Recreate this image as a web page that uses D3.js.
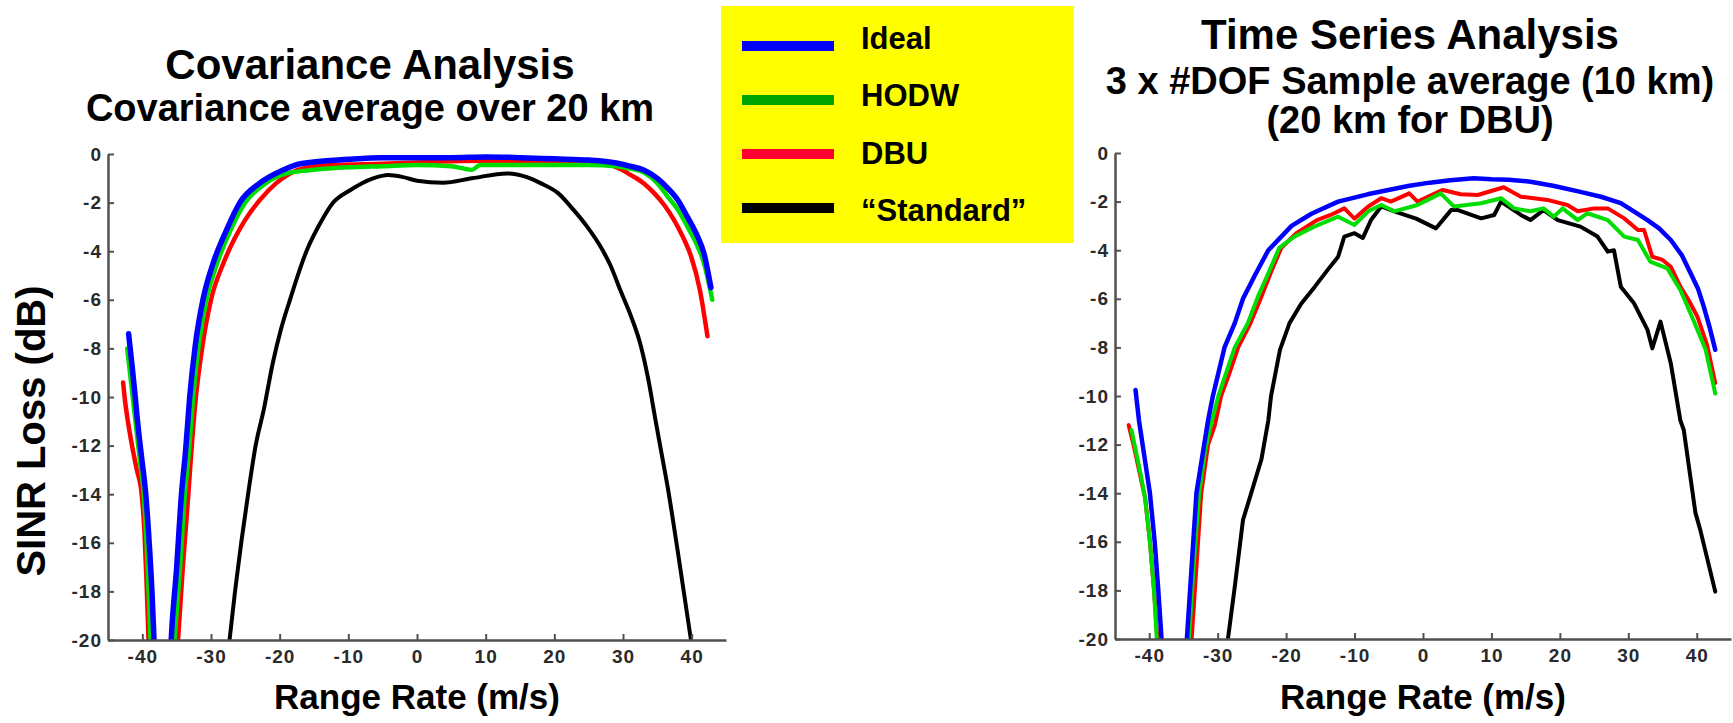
<!DOCTYPE html>
<html>
<head>
<meta charset="utf-8">
<script src="https://cdn.jsdelivr.net/npm/d3@7/dist/d3.min.js"></script>
<style>
    body { margin: 0; background: #ffffff; }
    svg { display: block; font-family: "Liberation Sans", Arial, Helvetica, sans-serif; }
</style>
</head>
<body>
<div id="chart"></div>
<script>
// ---- data (range rate m/s, SINR loss dB) ----
// values below -20 only exist so the notch dips out of the plot and gets clipped

let xTicks = [-40, -30, -20, -10, 0, 10, 20, 30, 40];
let yTicks = [0, -2, -4, -6, -8, -10, -12, -14, -16, -18, -20];

let legendLabels = ["Ideal", "HODW", "DBU", "\u201CStandard\u201D"];

let covTitles = ["Covariance Analysis", "Covariance average over 20 km"];
let tsTitles = ["Time Series Analysis", "3 x #DOF Sample average (10 km)", "(20 km for DBU)"];

let xLabel = "Range Rate (m/s)";
let yLabel = "SINR Loss (dB)";

// left panel: covariance analysis
let covIdeal = [[-42,-7.4],[-41.5,-8.7],[-41.1,-9.8],[-40.7,-11],[-40.1,-12.5],[-39.5,-14],[-39,-16],[-38.6,-18],[-38.3,-20],[-37,-30],
    [-35.8,-20],[-35,-17],[-34.3,-14],[-33.7,-12.2],[-33.1,-10],[-32.3,-7.9],[-31.1,-5.9],[-29.7,-4.5],[-27.7,-3.1],
    [-25.8,-2.0],[-22.9,-1.2],[-19.5,-0.66],[-17,-0.4],[-10,-0.22],[-5,-0.15],[0,-0.15],[5,-0.15],
    [10,-0.12],[15,-0.15],[20,-0.2],[25,-0.25],[29,-0.37],[31,-0.5],[33,-0.66],[35,-1.0],[36.5,-1.4],[38,-1.9],[39.4,-2.6],[40.7,-3.3],[41.8,-4.1],[42.8,-5.5]];

let covHodw = [[-42.2,-8],[-41.6,-9.5],[-41,-11],[-40.4,-12.5],[-39.8,-14],[-39.3,-16.5],[-38.8,-20],[-37,-30],
    [-35.3,-20],[-34.5,-17],[-33.8,-14],[-33.2,-12.2],[-32.6,-10],[-31.8,-7.9],[-30.6,-5.9],[-29.1,-4.5],[-27.1,-3.1],
    [-25,-2.0],[-22,-1.2],[-19,-0.8],[-15,-0.65],[-10,-0.55],[-5,-0.5],[0,-0.45],[5,-0.5],
    [8,-0.65],[9.2,-0.45],[15,-0.45],[20,-0.45],[25,-0.45],[29,-0.5],[31,-0.6],[33,-0.75],[35,-1.2],[36.5,-1.75],[38,-2.3],[39.4,-3.0],[40.7,-3.7],[41.8,-4.5],[43,-6.0]];

let covDbu = [[-42.8,-9.4],[-42.5,-10.2],[-42.1,-11],[-41.5,-12],[-40.8,-13],[-40.1,-14],[-39.7,-15.5],[-39.4,-17.5],[-39.1,-20],[-37,-30],
    [-34.8,-20],[-34.1,-17],[-33.3,-14],[-32.8,-12],[-32.2,-10],[-31.3,-8],[-30,-6],[-28.2,-4.5],[-26.6,-3.5],
    [-25,-2.7],[-22.9,-1.9],[-20.5,-1.2],[-18.5,-0.8],[-16,-0.55],[-12,-0.45],[-5,-0.4],[0,-0.35],[5,-0.3],[10,-0.28],
    [15,-0.28],[20,-0.3],[25,-0.35],[28,-0.45],[29.6,-0.62],[31.1,-0.86],[33,-1.2],[34.5,-1.6],[36,-2.1],[37.4,-2.7],[38.7,-3.4],[39.9,-4.2],[41.2,-5.6],[42.3,-7.5]];

let covStandard = [[-27.3,-20],[-26.5,-18],[-25.6,-16],[-24.6,-14],[-23.5,-12],[-22.3,-10.5],[-21,-8.6],[-19.8,-7.2],
    [-18.5,-6],[-16.1,-4],[-14,-2.8],[-12.2,-2],[-9.8,-1.5],[-6.4,-1.0],[-4.2,-0.86],[-2,-0.95],[0,-1.1],[3.8,-1.18],
    [8,-1.0],[13.1,-0.8],[16,-0.95],[18,-1.2],[20.5,-1.6],[22.8,-2.3],[24.8,-3],[26.7,-3.8],[28.2,-4.6],[29.6,-5.6],
    [31.2,-6.7],[32.6,-7.9],[33.7,-9.3],[34.7,-10.9],[35.6,-12.3],[36.5,-13.7],[38,-16.4],[39.9,-20]];

// right panel: time series analysis
let tsIdeal = [[-42,-9.75],[-41.5,-11],[-40.7,-12.5],[-39.9,-14],[-39.2,-16],[-38.7,-17.9],[-38.2,-20],[-36.3,-30],
    [-34.5,-20],[-33.8,-17],[-33.1,-14],[-32.2,-12.4],[-31.4,-11],[-30.7,-10],[-29,-8],[-27.5,-7],[-26.3,-6],
    [-24.5,-5],[-22.6,-4],[-19.2,-3],[-16.3,-2.5],[-12.4,-2],[-8.1,-1.7],[-4.7,-1.5],[-2,-1.35],[1,-1.22],
    [4,-1.12],[7.4,-1.04],[10,-1.08],[12.5,-1.1],[15.7,-1.18],[19,-1.35],[23,-1.6],[26,-1.8],[28.9,-2.06],
    [30.8,-2.4],[32.8,-2.76],[34.5,-3.1],[36.2,-3.58],[37.8,-4.2],[39.1,-4.95],[40.2,-5.6],[41,-6.3],[41.9,-7.2],[42.7,-8.1]];

let tsHodw = [[-42.6,-11.4],[-42,-12.2],[-41.2,-13.3],[-40.6,-14.2],[-39.9,-16],[-39.3,-18],[-38.9,-20],[-36.5,-30],
    [-34.2,-20],[-33.5,-17],[-32.7,-14],[-31.8,-12.2],[-31,-11.2],[-29.9,-10],[-28.7,-9],[-27.5,-8],[-25.6,-7],
    [-24.1,-5.9],[-22.6,-4.95],[-21,-3.9],[-18.8,-3.44],[-15.9,-3.03],[-12.4,-2.62],[-10,-2.96],[-8,-2.4],
    [-6.1,-2.14],[-4.2,-2.4],[-0.8,-2.14],[2.6,-1.66],[4.5,-2.2],[8.5,-2.07],[11.4,-1.86],[13.3,-2.28],
    [15.7,-2.4],[17.6,-2.28],[19.1,-2.62],[20.4,-2.28],[22.6,-2.76],[24,-2.48],[27,-2.76],[29.4,-3.44],
    [31.4,-3.58],[33.2,-4.47],[35.7,-4.75],[37.6,-5.64],[39.5,-6.87],[41.3,-8.1],[42.7,-9.9]];

let tsDbu = [[-43,-11.2],[-42.3,-12],[-41.3,-13.3],[-40.6,-14.2],[-39.9,-16],[-39.3,-18],[-38.8,-20],[-36.3,-30],
    [-33.8,-20],[-33.1,-17],[-32.4,-14],[-31.4,-12],[-30.4,-11.2],[-29.5,-10],[-28.2,-9],[-27,-8],[-25.2,-7],
    [-23.6,-5.9],[-22.2,-4.9],[-20.7,-3.9],[-18.5,-3.3],[-15.5,-2.76],[-13.5,-2.55],[-11.5,-2.28],[-10,-2.7],
    [-8,-2.2],[-6.1,-1.86],[-4.7,-2.0],[-2,-1.66],[-0.8,-2.0],[2.9,-1.52],[5.5,-1.7],[8,-1.73],[11.8,-1.41],
    [14.3,-1.8],[18.2,-1.93],[21.1,-2.14],[22.6,-2.4],[25,-2.28],[27,-2.28],[29.4,-2.69],[31.4,-3.17],
    [32.3,-3.17],[33.5,-4.27],[35,-4.4],[36.2,-4.68],[37.6,-5.5],[38.9,-6.1],[40.1,-6.74],[41.5,-7.9],[42.7,-9.47]];

let tsStandard = [[-28.5,-20],[-27.5,-17.85],[-26.3,-15.1],[-25.1,-14],[-23.6,-12.6],[-22.6,-11],[-22.2,-10],
    [-20.9,-8.1],[-19.5,-7],[-17.8,-6.2],[-15.8,-5.5],[-13.9,-4.8],[-12.4,-4.27],[-11.5,-3.44],[-10,-3.3],
    [-8.8,-3.5],[-7.6,-2.76],[-6.1,-2.2],[-4.2,-2.4],[-1,-2.7],[1.9,-3.1],[4.1,-2.35],[5.1,-2.35],[8.5,-2.69],
    [10.4,-2.55],[11.4,-2.0],[14.3,-2.55],[15.7,-2.76],[17.6,-2.35],[19.7,-2.76],[23,-3.03],[25.5,-3.44],
    [27,-4.06],[27.9,-4.0],[28.9,-5.5],[30.8,-6.17],[32.8,-7.28],[33.5,-8.04],[34.7,-6.94],[36.2,-8.65],
    [37.6,-11],[38.1,-11.4],[39.8,-14.8],[40.5,-15.5],[42.7,-18.05]];

let xDomain = [-45, 45];
let yDomain = [-20, 0];

// ---- drawing ----
let lineColors = ["#0000ff", "#00dd00", "#ff0000", "#000000"];   // Ideal, HODW, DBU, Standard
let legendColors = ["#0000ff", "#00a400", "#ff0030", "#000000"];

let svg = d3.select("#chart").append("svg")
    .attr("width", 1733)
    .attr("height", 723);

svg.append("rect")
    .attr("width", 1733)
    .attr("height", 723)
    .attr("fill", "#ffffff");

let panels = [
    {
        id: "cov",
        left: 108, right: 726, top: 154, bottom: 640,
        series: [covIdeal, covHodw, covDbu, covStandard],
        widths: [5.5, 4.5, 4.5, 4],
        curve: d3.curveMonotoneX,
        titles: covTitles,
        titleX: 370,
        titleY: [79, 121],
        titleSize: [42, 38]
    },
    {
        id: "ts",
        left: 1115, right: 1731, top: 153, bottom: 639,
        series: [tsIdeal, tsHodw, tsDbu, tsStandard],
        widths: [4.5, 4, 4, 4],
        curve: d3.curveLinear,
        titles: tsTitles,
        titleX: 1410,
        titleY: [49, 94, 133],
        titleSize: [42, 38, 38]
    }
];

function drawPanel(p) {
    let xScale = d3.scaleLinear().domain(xDomain).range([p.left, p.right]);
    let yScale = d3.scaleLinear().domain(yDomain).range([p.bottom, p.top]);

    // clip so the notch is cut at -20 dB
    svg.append("clipPath")
        .attr("id", "clip-" + p.id)
        .append("rect")
        .attr("x", p.left)
        .attr("y", p.top - 20)
        .attr("width", p.right - p.left)
        .attr("height", p.bottom - p.top + 20);

    let line = d3.line()
        .x(function (d) { return xScale(d[0]); })
        .y(function (d) { return yScale(d[1]); })
        .curve(p.curve);

    let g = svg.append("g").attr("clip-path", "url(#clip-" + p.id + ")");

    // black first, blue on top
    let order = [3, 2, 1, 0];
    order.forEach(function (i) {
        g.append("path")
            .datum(p.series[i])
            .attr("fill", "none")
            .attr("stroke", lineColors[i])
            .attr("stroke-width", p.widths[i])
            .attr("stroke-linejoin", "round")
            .attr("stroke-linecap", "round")
            .attr("d", line);
    });

    // axes, MATLAB style ticks pointing inward
    let yAxis = svg.append("g")
        .attr("transform", "translate(" + p.left + ",0)")
        .call(d3.axisLeft(yScale)
            .tickValues(yTicks)
            .tickSize(-6)
            .tickSizeOuter(0)
            .tickPadding(6)
            .tickFormat(function (d) { return String(d); }));

    let xAxis = svg.append("g")
        .attr("transform", "translate(0," + p.bottom + ")")
        .call(d3.axisBottom(xScale)
            .tickValues(xTicks)
            .tickSize(-6)
            .tickSizeOuter(0)
            .tickPadding(10)
            .tickFormat(function (d) { return String(d); }));

    [xAxis, yAxis].forEach(function (ax) {
        ax.select(".domain").attr("stroke", "#505050").attr("stroke-width", 2.5);
        ax.selectAll(".tick line").attr("stroke", "#505050").attr("stroke-width", 2);
        ax.selectAll(".tick text")
            .attr("fill", "#2a2a2a")
            .attr("font-size", 19)
            .attr("font-weight", "bold")
            .attr("letter-spacing", 1)
            .attr("font-family", "Liberation Sans, Arial, sans-serif");
    });

    // axis title
    svg.append("text")
        .attr("x", xScale(0))
        .attr("y", 709)
        .attr("text-anchor", "middle")
        .attr("font-size", 35)
        .attr("font-weight", "bold")
        .attr("fill", "#000")
        .text(xLabel);

    // panel titles
    p.titles.forEach(function (t, i) {
        svg.append("text")
            .attr("x", p.titleX)
            .attr("y", p.titleY[i])
            .attr("text-anchor", "middle")
            .attr("font-size", p.titleSize[i])
            .attr("font-weight", "bold")
            .attr("fill", "#000")
            .text(t);
    });
}

panels.forEach(drawPanel);

// y axis title only on the left panel
svg.append("text")
    .attr("transform", "translate(45,431) rotate(-90)")
    .attr("text-anchor", "middle")
    .attr("font-size", 40)
    .attr("font-weight", "bold")
    .attr("fill", "#000")
    .text(yLabel);

// ---- legend (yellow box) ----
let legend = svg.append("g");

legend.append("rect")
    .attr("x", 721)
    .attr("y", 6)
    .attr("width", 353)
    .attr("height", 237)
    .attr("fill", "#ffff00");

let legendLineY = d3.scalePoint()
    .domain(legendLabels)
    .range([46, 208]);

let legendTextY = d3.scalePoint()
    .domain(legendLabels)
    .range([49, 221]);

legendLabels.forEach(function (label, i) {
    legend.append("line")
        .attr("x1", 742)
        .attr("x2", 834)
        .attr("y1", legendLineY(label))
        .attr("y2", legendLineY(label))
        .attr("stroke", legendColors[i])
        .attr("stroke-width", 10);

    legend.append("text")
        .attr("x", 861)
        .attr("y", legendTextY(label))
        .attr("font-size", 31)
        .attr("font-weight", "bold")
        .attr("fill", "#000")
        .text(label);
});
</script>
</body>
</html>
